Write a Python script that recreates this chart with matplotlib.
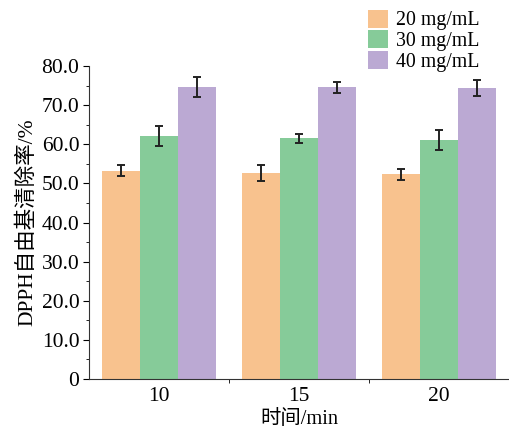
import numpy as np
import matplotlib.pyplot as plt
from matplotlib.ticker import MultipleLocator, FixedLocator

plt.rcParams['font.family'] = ['Liberation Serif', 'Noto Sans CJK SC']

times = ["10", "15", "20"]
labels = ["20 mg/mL", "30 mg/mL", "40 mg/mL"]
vals_20 = [53.3, 52.7, 52.4]
vals_30 = [62.2, 61.5, 61.1]
vals_40 = [74.7, 74.6, 74.4]
err_20 = [1.4, 2.1, 1.4]
err_30 = [2.5, 1.1, 2.5]
err_40 = [2.5, 1.4, 2.1]
colors = ["#F8C28E", "#86CB99", "#BBA9D3"]

fig = plt.figure(figsize=(5.09, 4.28), dpi=100)
ax = fig.add_axes([0.175, 0.1145, 0.825, 0.731])

x = np.arange(len(times))
w = 0.272
series = [vals_20, vals_30, vals_40]
errs = [err_20, err_30, err_40]
for i in range(3):
    ax.bar(x + (i - 1) * w, series[i], w, color=colors[i], label=labels[i],
           yerr=errs[i], capsize=2.8,
           error_kw=dict(ecolor="#222222", elinewidth=1.4, capthick=1.4))

ax.set_xlim(-0.5, 2.5)
ax.set_ylim(0, 80)
ax.set_xticks(x)
ax.set_xticklabels(times)
ax.xaxis.set_minor_locator(FixedLocator([0.5, 1.5]))
ax.tick_params(axis="x", which="major", length=0, pad=6, labelsize=15.5)
ax.tick_params(axis="x", which="minor", length=3, direction="out")
ax.yaxis.set_minor_locator(MultipleLocator(5))
ax.set_yticks(np.arange(0, 81, 10))
ax.set_yticklabels(["0"] + ["%.1f" % v for v in np.arange(10, 81, 10)])
ax.tick_params(axis="y", which="major", length=4, labelsize=15.5, pad=3)
ax.tick_params(axis="y", which="minor", length=2.5)

ax.spines["top"].set_visible(False)
ax.spines["right"].set_visible(False)
ax.spines["left"].set_color("#333333")
ax.spines["bottom"].set_color("#333333")

ax.set_xlabel("时间/min", fontsize=14.7, labelpad=3)
ax.set_ylabel("DPPH自由基清除率/%", fontsize=15.5, labelpad=3)

fig.legend(loc="upper right", bbox_to_anchor=(0.965, 1.005), frameon=False,
           fontsize=14.3, handlelength=1.0, handleheight=1.0, handletextpad=0.4,
           labelspacing=0.0, borderaxespad=0.2)

fig.savefig("out.png", dpi=100)
